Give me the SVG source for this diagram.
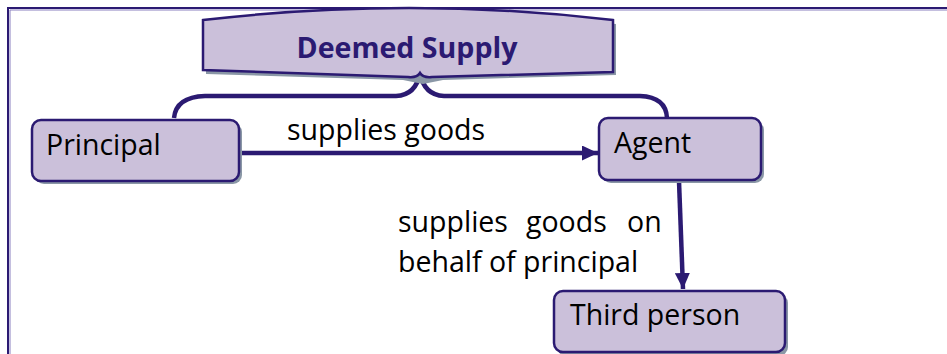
<svg xmlns="http://www.w3.org/2000/svg" width="947" height="354" viewBox="0 0 947 354">
<defs>
<style>
.box{fill:#cbc0da;stroke:#2b1a72;stroke-width:2.5}
.shadow{fill:#8a97a6}
.t{font-family:"Open Sans","DejaVu Sans",sans-serif;font-size:28.5px;fill:#000}
.title{font-family:"Open Sans","DejaVu Sans",sans-serif;font-size:29px;font-weight:bold;fill:#2b1a72}
.conn{fill:none;stroke:#2b1a72;stroke-width:4.5}
</style>
<marker id="ah" markerWidth="16" markerHeight="15" refX="16" refY="7.5" orient="auto" markerUnits="userSpaceOnUse">
<path d="M0,0 L16,7.5 L0,15 Z" fill="#2b1a72"/>
</marker>
</defs>
<rect width="947" height="354" fill="#fff"/>
<g id="frame">
<path d="M8,354 L8,8 L947,8" fill="none" stroke="#2b1a72" stroke-width="2"/>
<path d="M10,354 L10,10 L947,10" fill="none" stroke="#8a80c0" stroke-width="1"/>
</g>
<g id="connectors">
<path class="conn" d="M174,118 Q176,97 205,96 L396,96 Q416,95 420,73 Q424,95 444,96 L640,96 Q666,97 667,118"/>
<line class="conn" x1="240" y1="153" x2="598" y2="153" marker-end="url(#ah)"/>
<line class="conn" x1="679" y1="181" x2="683" y2="289" marker-end="url(#ah)"/>
</g>
<g id="deemed-supply">
<path class="shadow" d="M206,24 Q410,0 616,24 L616,75 L443,80 L423,84 L403,80 L206,74 Z"/>
<path class="box" d="M203,20 Q410,-4 613,20 L613,72 L432,77 Q423,78 420,73 Q417,78 408,77 L203,70 Z"/>
<text class="title" x="407" y="58" text-anchor="middle" textLength="221" lengthAdjust="spacingAndGlyphs">Deemed Supply</text>
</g>
<g id="principal">
<rect class="shadow" x="35" y="123" width="207" height="61" rx="9"/>
<rect class="box" x="32" y="120" width="207" height="61" rx="9"/>
<text class="t" x="46" y="155">Principal</text>
</g>
<g id="agent">
<rect class="shadow" x="602" y="121" width="162" height="62" rx="9"/>
<rect class="box" x="599" y="118" width="162" height="62" rx="9"/>
<text class="t" x="614" y="153">Agent</text>
</g>
<g id="third-person">
<rect class="shadow" x="557" y="294" width="231" height="62" rx="9"/>
<rect class="box" x="554" y="291" width="231" height="61" rx="9"/>
<text class="t" x="570" y="325">Third person</text>
</g>
<g id="labels">
<text class="t" x="287" y="140">supplies goods</text>
<text class="t" y="232"><tspan x="398">supplies</tspan><tspan x="526">goods</tspan><tspan x="627">on</tspan></text>
<text class="t" x="398" y="272">behalf of principal</text>
</g>
</svg>
